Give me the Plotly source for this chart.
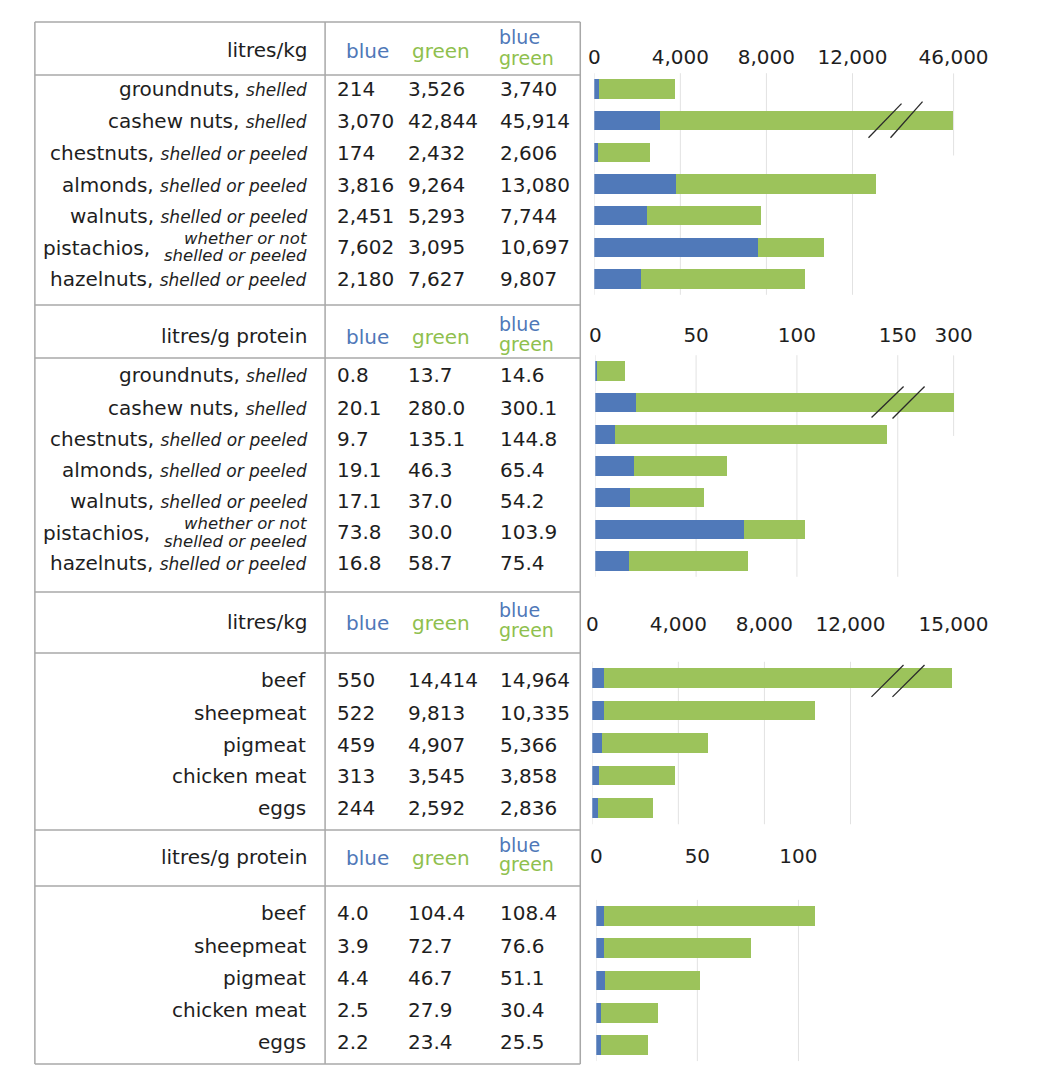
import plotly.graph_objects as go

# ---------------- data ----------------
nut_names = ["groundnuts", "cashew nuts", "chestnuts", "almonds", "walnuts", "pistachios", "hazelnuts"]
nut_notes = ["shelled", "shelled", "shelled or peeled", "shelled or peeled",
             "shelled or peeled", "whether or not|shelled or peeled", "shelled or peeled"]
nut_kg_blue = [214, 3070, 174, 3816, 2451, 7602, 2180]
nut_kg_green = [3526, 42844, 2432, 9264, 5293, 3095, 7627]
nut_kg_total = [3740, 45914, 2606, 13080, 7744, 10697, 9807]
nut_prot_blue = [0.8, 20.1, 9.7, 19.1, 17.1, 73.8, 16.8]
nut_prot_green = [13.7, 280.0, 135.1, 46.3, 37.0, 30.0, 58.7]
nut_prot_total = [14.6, 300.1, 144.8, 65.4, 54.2, 103.9, 75.4]

meat_names = ["beef", "sheepmeat", "pigmeat", "chicken meat", "eggs"]
meat_kg_blue = [550, 522, 459, 313, 244]
meat_kg_green = [14414, 9813, 4907, 3545, 2592]
meat_kg_total = [14964, 10335, 5366, 3858, 2836]
meat_prot_blue = [4.0, 3.9, 4.4, 2.5, 2.2]
meat_prot_green = [104.4, 72.7, 46.7, 27.9, 23.4]
meat_prot_total = [108.4, 76.6, 51.1, 30.4, 25.5]

nut_kg_ticks = [0, 4000, 8000, 12000, 46000]
nut_prot_ticks = [0, 50, 100, 150, 300]
meat_kg_ticks = [0, 4000, 8000, 12000, 15000]
meat_prot_ticks = [0, 50, 100]

unit_kg = "litres/kg"
unit_prot = "litres/g protein"

# ---------------- styling ----------------
W, H = 1040, 1064          # figure size (page adds an 8px body margin)
OFF = 8
FONT = "DejaVu Sans"
TXT = "#1e1e1e"
BLUE = "#5079b9"
GREEN = "#9cc35b"
BLUE_T = "#4f78b8"
GREEN_T = "#8fbf4e"
BORDER = "#a8a8a8"
GRID = "#e2e2e2"


def xc(x):
    # small horizontal correction so left-side items land where the reference has them
    return x - 6.0 * (953 - x) / 918


def px(x):
    return (xc(x) - OFF) / W


def py(y):
    return 1 - (y - OFF) / H


panels = [
    dict(names=nut_names, notes=nut_notes, blue=nut_kg_blue, green=nut_kg_green, total=nut_kg_total,
         ticks=nut_kg_ticks, unit=unit_kg, fmt="{:,.0f}", zero=594, scale=0.0215,
         ytop=73.2, ybot=294.8, brk=(13500, 16700), grid_top_end=2.1, standoff=4,
         top=22, hdr=75, rows=[89, 121, 153, 185, 216, 247, 279], hy=50,
         slashes=[(12744, 1.54, 14279, 0.46), (13767, 1.54, 15256, 0.40)]),
    dict(names=nut_names, notes=nut_notes, blue=nut_prot_blue, green=nut_prot_green, total=nut_prot_total,
         ticks=nut_prot_ticks, unit=unit_prot, fmt="{:.1f}", zero=595, scale=2.015,
         ytop=355.2, ybot=576.8, brk=(155, 177.7), grid_top_end=2.05, standoff=8,
         top=305, hdr=358, rows=[375, 408, 439, 470, 501, 532, 563], hy=336,
         slashes=[(137.0, 1.47, 152.9, 0.49), (147.4, 1.50, 163.3, 0.49)]),
    dict(names=meat_names, notes=None, blue=meat_kg_blue, green=meat_kg_green, total=meat_kg_total,
         ticks=meat_kg_ticks, unit=unit_kg, fmt="{:,.0f}", zero=592, scale=0.0215,
         ytop=661.75, ybot=824.25, brk=(13500, 16790), grid_top_end=None, standoff=26,
         top=592, hdr=653, rows=[680, 713, 745, 776, 808], hy=622,
         slashes=[(12977, 0.58, 14465, -0.40), (13953, 0.58, 15442, -0.40)]),
    dict(names=meat_names, notes=None, blue=meat_prot_blue, green=meat_prot_green, total=meat_prot_total,
         ticks=meat_prot_ticks, unit=unit_prot, fmt="{:.1f}", zero=596, scale=2.02,
         ytop=899.9, ybot=1061.1, brk=None, grid_top_end=None, standoff=32,
         top=830, hdr=886, rows=[913, 946, 978, 1010, 1042], hy=857,
         slashes=[]),
]

fig = go.Figure()
shapes = []
annotations = []


def text(x, y, s, anchor="left", size=20, color=TXT):
    annotations.append(dict(x=px(x), y=py(y), xref="paper", yref="paper", text=s, showarrow=False,
                            xanchor=anchor, yanchor="middle", borderpad=0, borderwidth=0,
                            font=dict(family=FONT, size=size, color=color)))


for i, p in enumerate(panels, start=1):
    xa = "x" if i == 1 else f"x{i}"
    ya = "y" if i == 1 else f"y{i}"
    n = len(p["names"])

    def disp(v, p=p):
        if p["brk"] is None:
            return v
        b, dtop = p["brk"]
        ttop = p["ticks"][-1]
        if v <= b:
            return v
        return b + (v - b) * (dtop - b) / (ttop - b)

    blue_len = p["blue"]
    green_len = [disp(b + g) - b for b, g in zip(p["blue"], p["green"])]

    fig.add_trace(go.Bar(y=p["names"], x=blue_len, orientation="h", marker=dict(color=BLUE, line=dict(width=0)),
                         xaxis=xa, yaxis=ya, showlegend=False, name="blue"))
    fig.add_trace(go.Bar(y=p["names"], x=green_len, orientation="h", marker=dict(color=GREEN, line=dict(width=0)),
                         xaxis=xa, yaxis=ya, showlegend=False, name="green"))

    tickvals = [disp(t) for t in p["ticks"]]
    ticktext = [f"{t:,}" for t in p["ticks"]]
    rng = (1040 - p["zero"]) / p["scale"]
    xkey = "xaxis" if i == 1 else f"xaxis{i}"
    ykey = "yaxis" if i == 1 else f"yaxis{i}"
    fig.update_layout(**{
        xkey: dict(domain=[px(p["zero"]), px(1040)], range=[0, rng], side="top", anchor=ya,
                   tickvals=tickvals, ticktext=ticktext, showgrid=False, zeroline=False, showline=False,
                   ticks="", ticklabelstandoff=p["standoff"],
                   tickfont=dict(family=FONT, size=20, color=TXT), fixedrange=True),
        ykey: dict(domain=[py(p["ybot"]), py(p["ytop"])], type="category", categoryorder="array",
                   categoryarray=p["names"], range=[n - 0.5, -0.5], showticklabels=False,
                   showgrid=False, zeroline=False, showline=False, anchor=xa, fixedrange=True),
    })

    # gridlines
    last = len(tickvals) - 1
    for k, tv in enumerate(tickvals):
        if p["brk"] is not None and k == last:
            if p["grid_top_end"] is None:
                continue
            shapes.append(dict(type="line", xref=xa, yref=ya, x0=tv, x1=tv, y0=-0.5, y1=p["grid_top_end"],
                               line=dict(color=GRID, width=1), layer="below"))
        else:
            shapes.append(dict(type="line", xref=xa, yref=f"{ya} domain", x0=tv, x1=tv, y0=0, y1=1,
                               line=dict(color=GRID, width=1), layer="below"))

    # break marks
    for (x0, y0, x1, y1) in p["slashes"]:
        shapes.append(dict(type="line", xref=xa, yref=ya, x0=x0, y0=y0, x1=x1, y1=y1,
                           line=dict(color="#2a2a2a", width=1.3), layer="above"))

    # table header
    text(307, p["hy"], p["unit"], anchor="right")
    text(367, p["hy"] + 1, "blue", anchor="center", color=BLUE_T)
    text(441, p["hy"] + 1, "green", anchor="center", color=GREEN_T)
    text(499, p["hy"] - 12.5, "blue", anchor="left", size=19, color=BLUE_T)
    text(499, p["hy"] + 7.5, "green", anchor="left", size=19, color=GREEN_T)

    # table rows
    for r, name in enumerate(p["names"]):
        y = p["rows"][r]
        note = p["notes"][r] if p["notes"] else None
        if note is None:
            text(306, y, name, anchor="right")
        elif "|" in note:
            l1, l2 = note.split("|")
            text(150, y + 1, name + ",", anchor="right")
            text(307, y - 8.5, f"<i>{l1}</i>", anchor="right", size=16.5)
            text(307, y + 9, f"<i>{l2}</i>", anchor="right", size=16.5)
        else:
            text(307, y, f"{name}, <i><span style='font-size:17px'>{note}</span></i>", anchor="right")
        text(337, y, p["fmt"].format(p["blue"][r]), anchor="left")
        text(408, y, p["fmt"].format(p["green"][r]), anchor="left")
        text(500, y, p["fmt"].format(p["total"][r]), anchor="left")

    # table horizontal lines
    shapes.append(dict(type="line", xref="paper", yref="paper", x0=px(35), x1=px(580), y0=py(p["top"]),
                       y1=py(p["top"]), line=dict(color=BORDER, width=1.5)))
    shapes.append(dict(type="line", xref="paper", yref="paper", x0=px(35), x1=px(580), y0=py(p["hdr"]),
                       y1=py(p["hdr"]), line=dict(color=BORDER, width=1.5)))

# outer table lines
for xline in (35, 325, 580):
    shapes.append(dict(type="line", xref="paper", yref="paper", x0=px(xline), x1=px(xline), y0=py(22),
                       y1=py(1064), line=dict(color=BORDER, width=1.5)))
shapes.append(dict(type="line", xref="paper", yref="paper", x0=px(35), x1=px(580), y0=py(1064),
                   y1=py(1064), line=dict(color=BORDER, width=1.5)))

fig.update_layout(width=W, height=H, margin=dict(l=0, r=0, t=0, b=0), barmode="stack", bargap=0.39,
                  paper_bgcolor="white", plot_bgcolor="white", shapes=shapes, annotations=annotations,
                  font=dict(family=FONT, color=TXT), showlegend=False)

fig.write_html("out.html", config={"displayModeBar": False})
